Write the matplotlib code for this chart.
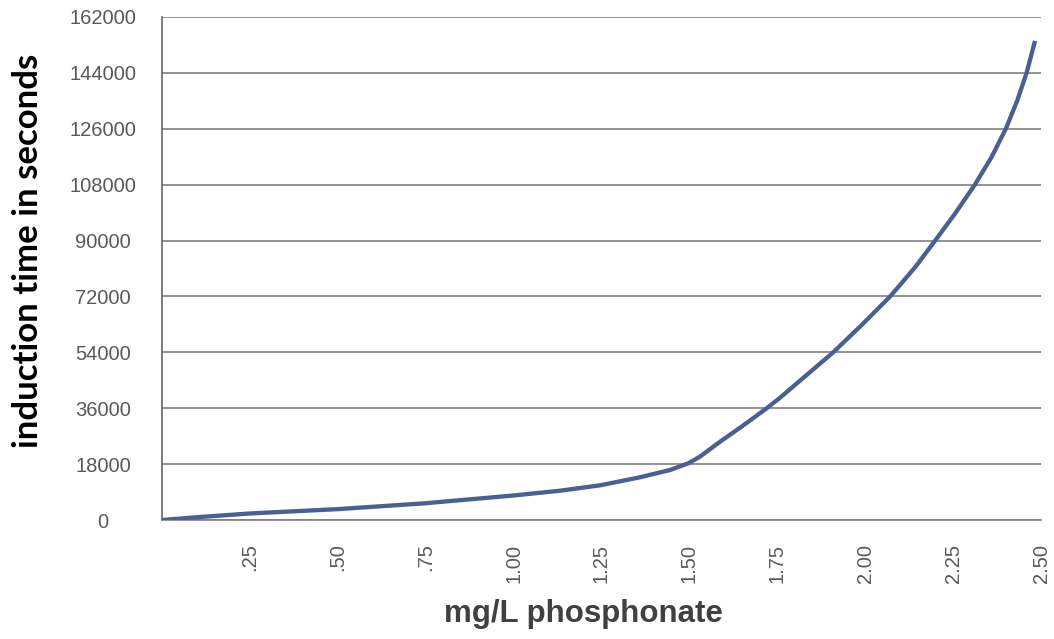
import numpy as np
import matplotlib.pyplot as plt

# values
conc = [0, 0.1, 0.25, 0.364, 0.5, 0.75, 1.0, 1.132, 1.246, 1.359, 1.445,
        1.497, 1.53, 1.587, 1.65, 1.72, 1.758, 1.909, 1.99, 2.071, 2.142,
        2.199, 2.255, 2.312, 2.36, 2.4, 2.433, 2.459, 2.483]
induction = [0, 900, 2100, 2750, 3500, 5400, 7900, 9430, 11170, 13750, 16100,
             18260, 20400, 25200, 30200, 36000, 39400, 54000, 62800, 72000, 81400,
             90000, 98600, 108000, 117000, 126000, 135250, 144000, 154300]

x_ticks = [0.25, 0.5, 0.75, 1.0, 1.25, 1.5, 1.75, 2.0, 2.25, 2.5]
x_labels = [".25", ".50", ".75", "1.00", "1.25", "1.50", "1.75", "2.00", "2.25", "2.50"]
y_ticks = list(range(0, 162001, 18000))

fig = plt.figure(figsize=(10.54, 6.39), dpi=100)
ax = fig.add_axes([162 / 1054, 1 - 520 / 639, (1041 - 162) / 1054, (520 - 17) / 639])

ax.plot(conc, induction, color="#4a6091", linewidth=3.1, solid_joinstyle="round",
        solid_capstyle="butt", zorder=3)

ax.set_xlim(0, 2.5)
ax.set_ylim(0, 162000)
ax.set_xticks(x_ticks)
ax.set_xticklabels(x_labels, rotation=90, ha="center", va="top",
                   fontsize=14.5, color="#595959", family="Liberation Sans")
ax.set_yticks(y_ticks)
ax.set_yticklabels([str(v) for v in y_ticks], ha="center",
                   fontsize=14.5, color="#595959", family="Liberation Sans")
ax.tick_params(axis="y", length=0, pad=42.5)
ax.tick_params(axis="x", length=0, pad=17)

ax.grid(axis="y", color="#808080", linewidth=1.2)
ax.set_axisbelow(True)
for s in ["top", "right"]:
    ax.spines[s].set_visible(False)
ax.spines["bottom"].set_color("#808080")
ax.spines["bottom"].set_linewidth(1.2)
ax.spines["left"].set_color("#666666")
ax.spines["left"].set_linewidth(1.2)

fig.text(583 / 1054, 1 - 614 / 639, "mg/L phosphonate", ha="center", va="center",
         fontsize=22.5, fontweight="bold", color="#404040", family="Liberation Sans")
fig.text(28 / 1054, 1 - 251 / 639, "induction time in seconds", ha="center", va="center",
         rotation=90, fontsize=25, fontweight="bold", color="black", family="Lato")

fig.savefig("out.png", dpi=100)
